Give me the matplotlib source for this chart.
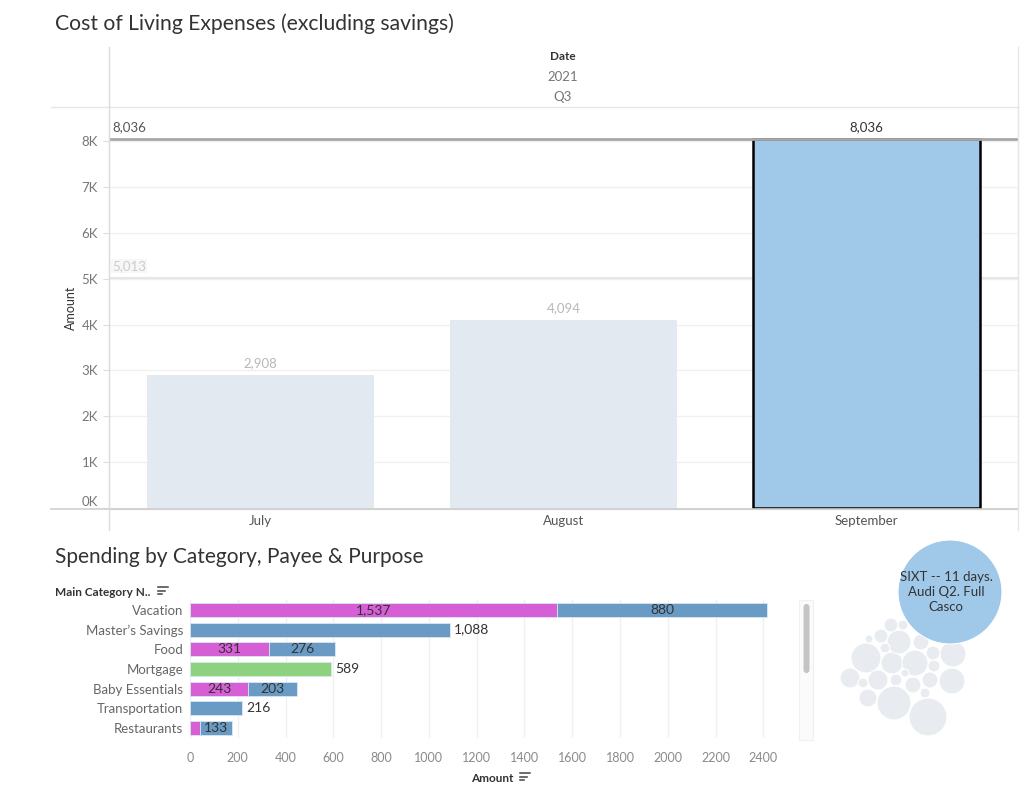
import matplotlib
matplotlib.use("Agg")
import matplotlib.pyplot as plt
from matplotlib.patches import Circle, FancyBboxPatch, Rectangle
from matplotlib.lines import Line2D

plt.rcParams['font.family'] = ['Lato', 'DejaVu Sans']

# ---------------- data ----------------
months = ["July", "August", "September"]
month_amounts = [2908, 4094, 8036]
ref_max = 8036
ref_avg = 5013
y_ticks = [0, 1000, 2000, 3000, 4000, 5000, 6000, 7000, 8000]
y_tick_labels = ["0K", "1K", "2K", "3K", "4K", "5K", "6K", "7K", "8K"]

categories = ["Vacation", "Master\u2019s Savings", "Food", "Mortgage",
              "Baby Essentials", "Transportation", "Restaurants"]
seg_magenta = [1537, 0, 331, 0, 243, 0, 43]
seg_blue = [880, 1088, 276, 0, 203, 216, 133]
seg_green = [0, 0, 0, 589, 0, 0, 0]
x_ticks = [0, 200, 400, 600, 800, 1000, 1200, 1400, 1600, 1800, 2000, 2200, 2400]

bubble_label = "SIXT -- 11 days.\nAudi Q2. Full\nCasco"
# packed bubbles: (x, y, r) layout in pixels
bubble_big = (950, 592, 52)
bubbles = [(866, 658, 15), (850, 678, 10), (863, 683, 5), (868, 698, 9),
           (878, 680, 10), (892, 663, 11), (899, 642, 12), (881, 636, 7),
           (891, 625, 7), (903, 625, 5), (869, 639, 4), (885, 648, 5),
           (915, 663, 13), (921, 642, 8), (933, 653, 7), (953, 654, 13),
           (934, 666, 6), (930, 680, 8), (913, 685, 8), (896, 680, 6),
           (905, 673, 4), (952, 681, 13), (894, 703, 17), (925, 693, 5),
           (928, 717, 19)]

# ---------------- figure ----------------
W, H = 1024, 794
fig = plt.figure(figsize=(W / 100, H / 100), dpi=100)
fig.patch.set_facecolor("white")


def px_axes(x0, y0, x1, y1, **kw):
    return fig.add_axes([x0 / W, 1 - y1 / H, (x1 - x0) / W, (y1 - y0) / H], **kw)


TXT = "#333333"
TICK = "#777777"

# ---------------- top chart ----------------
ax = px_axes(109, 107, 1018, 509)
ax.set_xlim(-0.5, 2.5)
ax.set_ylim(-20, 8740)
bar_colors = ["#e3e9f0", "#e3e9f0", "#a0c8e8"]
edge_colors = ["none", "none", "black"]
lws = [0, 0, 1.8]
ax.bar(range(3), month_amounts, width=0.75, color=bar_colors,
       edgecolor=edge_colors, linewidth=lws, zorder=3)
for i, v in enumerate(month_amounts):
    col = TXT if i == 2 else "#b8b8b8"
    ax.text(i, v + 130, f"{v:,}", ha="center", va="bottom", fontsize=9.5, color=col, zorder=5)

ax.axhline(ref_max, color="#a8a8a8", lw=2, zorder=4)
ax.axhline(ref_avg, color="#e6e6e6", lw=1.5, zorder=2)
ax.text(-0.49, ref_max + 130, f"{ref_max:,}", ha="left", va="bottom", fontsize=9.5, color="#555555")
ax.text(-0.49, ref_avg + 130, f"{ref_avg:,}", ha="left", va="bottom", fontsize=9.5, color="#cccccc",
        bbox=dict(boxstyle="square,pad=0.1", fc="#f7f7f7", ec="none"))

ax.set_yticks(y_ticks)
ax.set_yticklabels(y_tick_labels, fontsize=9.5, color=TICK)
ax.get_yticklabels()[0].set_va("bottom")
ax.tick_params(axis="y", length=4, color="#dddddd", pad=4)
ax.set_xticks([])
ax.grid(axis="y", color="#f0f0f0", lw=1, zorder=0)
ax.set_axisbelow(True)
ax.spines["top"].set_visible(False)
ax.spines["left"].set_color("#dcdcdc")
ax.spines["right"].set_color("#e6e6e6")
ax.spines["bottom"].set_color("#cfcfcf")
ax.set_ylabel("Amount", fontsize=9, color=TXT, labelpad=3)

# ---------------- bottom bar chart ----------------
bx = px_axes(190, 600, 792, 738)
ypos = list(range(len(categories)))
bh = 0.71
c_mag, c_blue, c_green = "#d65fd6", "#6a9bc4", "#8dd27e"
left = [0] * len(categories)
for vals, col in [(seg_magenta, c_mag), (seg_blue, c_blue), (seg_green, c_green)]:
    bx.barh(ypos, vals, left=left, height=bh, color=col, edgecolor="#d8e6f2",
            linewidth=0.6, zorder=3)
    left = [l + v for l, v in zip(left, vals)]

for i in ypos:
    vals = [seg_magenta[i], seg_blue[i], seg_green[i]]
    nz = [v for v in vals if v > 0]
    if len(nz) == 1:
        bx.text(left[i] + 18, i, f"{nz[0]:,}", ha="left", va="center", fontsize=10, color=TXT, zorder=5)
    else:
        start = 0
        for v in vals:
            if v >= 100:
                bx.text(start + v / 2, i, f"{v:,}", ha="center", va="center",
                        fontsize=10, color=TXT, zorder=5)
            start += v

bx.set_xlim(0, 2520)
bx.set_ylim(6.5, -0.5)
bx.set_yticks(ypos)
bx.set_yticklabels(categories, fontsize=9.5, color="#666666")
bx.tick_params(axis="y", length=0, pad=5)
bx.set_xticks(x_ticks)
bx.set_xticklabels([str(t) for t in x_ticks], fontsize=9, color="#8a8a8a")
bx.tick_params(axis="x", length=0, pad=10)
bx.grid(axis="x", color="#f0f0f0", lw=1, zorder=0)
bx.set_axisbelow(True)
for s in bx.spines.values():
    s.set_visible(False)

# ---------------- overlay (pixel coordinates) ----------------
ov = fig.add_axes([0, 0, 1, 1], facecolor="none")
ov.set_xlim(0, W)
ov.set_ylim(H, 0)
ov.axis("off")

# frame lines of the top chart
ov.add_line(Line2D([51, 1018], [107, 107], color="#e6e6e6", lw=1))
ov.add_line(Line2D([51, 1018], [509, 509], color="#cfcfcf", lw=1.2))
ov.add_line(Line2D([109, 109], [47, 530], color="#dcdcdc", lw=1))
ov.add_line(Line2D([1018, 1018], [47, 530], color="#e6e6e6", lw=1))

# titles and headers
ov.text(55, 24, "Cost of Living Expenses (excluding savings)", fontsize=15.2, color="#333333",
        ha="left", va="center")
ov.text(563, 57, "Date", fontsize=8.5, color=TXT, ha="center", va="center", fontweight="bold")
ov.text(563, 77, "2021", fontsize=9.5, color="#777777", ha="center", va="center")
ov.text(563, 97, "Q3", fontsize=9.5, color="#777777", ha="center", va="center")
for i, m in enumerate(months):
    ov.text(109 + 303 * i + 151.5, 521, m, fontsize=9.5, color="#555555", ha="center", va="center")

ov.text(55, 557, "Spending by Category, Payee & Purpose", fontsize=15.0, color="#333333",
        ha="left", va="center")
ov.text(55, 592, "Main Category N..", fontsize=8.5, color=TXT, ha="left", va="center",
        fontweight="bold")
ov.text(492, 778, "Amount", fontsize=8.5, color=TXT, ha="center", va="center", fontweight="bold")


def sort_icon(x, y):
    for k, w in enumerate([10, 7, 4]):
        ov.add_line(Line2D([x, x + w], [y - 4 + 3.5 * k, y - 4 + 3.5 * k], color="#444444", lw=1.1))


sort_icon(158, 591)
sort_icon(520, 777)

# scrollbar
ov.add_patch(Rectangle((799, 600), 14, 140, fc="#fbfbfb", ec="#f0f0f0", lw=0.8))
ov.add_patch(FancyBboxPatch((803.5, 604), 6, 69, boxstyle="round,pad=0,rounding_size=3",
                            fc="#c4c4c4", ec="none"))

# packed bubbles
for (x, y, r) in bubbles:
    ov.add_patch(Circle((x, y), r, fc="#e8ecf0", ec="white", lw=0.8))
bxc, byc, br = bubble_big
ov.add_patch(Circle((bxc, byc), br, fc="#a0c8e8", ec="white", lw=0.8, zorder=4))
ov.text(bxc - 4, byc, bubble_label, fontsize=9.5, color=TXT, ha="center", va="center",
        linespacing=1.3, zorder=5)

fig.savefig("out.png", dpi=100, facecolor="white")
